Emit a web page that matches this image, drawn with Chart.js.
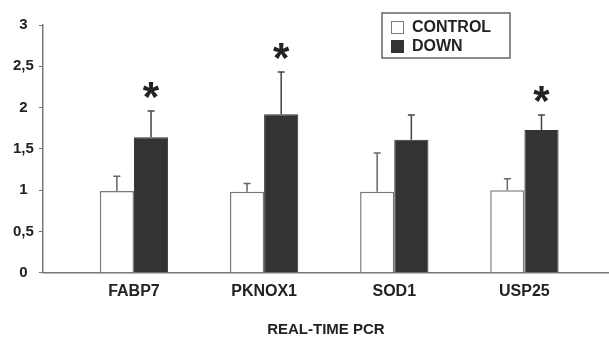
<!DOCTYPE html>
<html>
<head>
<meta charset="utf-8">
<script src="https://cdn.jsdelivr.net/npm/chart.js@4/dist/chart.umd.min.js"></script>
<style>
  html, body { margin: 0; padding: 0; background: #fff; }
  #wrap { width: 609px; height: 337px; }
</style>
</head>
<body>
<div id="wrap"><canvas id="pcrChart"></canvas></div>
<script>
// ---------- Data ----------
const categories = ["FABP7", "PKNOX1", "SOD1", "USP25"];
const controlValues = [0.99, 0.98, 0.98, 1.0];
const controlErrors = [0.18, 0.10, 0.47, 0.14];
const downValues = [1.64, 1.92, 1.61, 1.73];
const downErrors = [0.32, 0.51, 0.30, 0.18];
const downSignificant = [true, true, false, true];
const yTicks = [0, 0.5, 1, 1.5, 2, 2.5, 3];

const FONT = "'Liberation Sans', Arial, sans-serif";

// ---------- Plugins ----------
const errorBars = {
  id: "errorBars",
  afterDatasetsDraw(chart) {
    const ctx = chart.ctx;
    const y = chart.scales.y;
    chart.data.datasets.forEach((ds, di) => {
      const meta = chart.getDatasetMeta(di);
      meta.data.forEach((bar, i) => {
        const top = y.getPixelForValue(ds.data[i].y + ds.errors[i]);
        ctx.save();
        ctx.strokeStyle = ds.errorColor;
        ctx.lineWidth = 1.5;
        ctx.beginPath();
        ctx.moveTo(bar.x, bar.y);
        ctx.lineTo(bar.x, top);
        ctx.moveTo(bar.x - 3.5, top);
        ctx.lineTo(bar.x + 3.5, top);
        ctx.stroke();

        // significance mark
        if (ds.stars && ds.stars[i]) {
          ctx.fillStyle = "#222";
          ctx.font = "bold 42px " + FONT;
          ctx.textAlign = "center";
          ctx.textBaseline = "alphabetic";
          const m = ctx.measureText("*");
          const mid = (m.actualBoundingBoxAscent - m.actualBoundingBoxDescent) / 2;
          ctx.fillText("*", bar.x, top - 21 + mid);
        }
        ctx.restore();
      });
    });
  }
};

const boxLegend = {
  id: "boxLegend",
  afterDraw(chart) {
    const ctx = chart.ctx;
    const left = 382, topY = 13, w = 128, h = 45;
    ctx.save();
    ctx.strokeStyle = "#666";
    ctx.lineWidth = 1.5;
    ctx.strokeRect(left, topY, w, h);
    ctx.font = "bold 16px " + FONT;
    ctx.textBaseline = "middle";
    ctx.textAlign = "left";
    chart.data.datasets.forEach((ds, i) => {
      const cy = topY + 14 + i * 19;
      ctx.fillStyle = ds.backgroundColor;
      ctx.fillRect(391, cy - 6, 13, 13);
      ctx.strokeStyle = ds.borderColor;
      ctx.lineWidth = 1;
      ctx.strokeRect(391.5, cy - 5.5, 12, 12);
      ctx.fillStyle = "#222";
      ctx.fillText(ds.label, 412, cy + 1);
    });
    ctx.restore();
  }
};

// ---------- Chart ----------
function toPoints(values) {
  return values.map((v, i) => ({ x: i + 1, y: v }));
}

function initChart() {
  const ctx = document.getElementById("pcrChart").getContext("2d");

  new Chart(ctx, {
    type: "bar",
    data: {
      datasets: [
        {
          label: "CONTROL",
          data: toPoints(controlValues),
          errors: controlErrors,
          backgroundColor: "#ffffff",
          borderColor: "#7a7a7a",
          borderWidth: 1.5,
          errorColor: "#666",
          categoryPercentage: 0.525,
          barPercentage: 1
        },
        {
          label: "DOWN",
          data: toPoints(downValues),
          errors: downErrors,
          stars: downSignificant,
          backgroundColor: "#333333",
          borderColor: "#333333",
          borderWidth: 1,
          errorColor: "#444",
          categoryPercentage: 0.525,
          barPercentage: 1
        }
      ]
    },
    options: {
      responsive: true,
      maintainAspectRatio: false,
      animation: false,
      layout: { padding: { left: 8, right: 0, top: 25, bottom: 0 } },
      plugins: {
        legend: { display: false },
        tooltip: { enabled: false }
      },
      scales: {
        x: {
          type: "linear",
          offset: false,
          min: 0.3,
          max: 4.65,
          afterBuildTicks: (scale) => {
            scale.ticks = categories.map((c, i) => ({ value: i + 1 }));
          },
          grid: { display: false, drawTicks: false },
          border: { color: "#777", width: 1.5 },
          ticks: {
            autoSkip: false,
            maxRotation: 0,
            padding: 9,
            color: "#222",
            font: { family: FONT, size: 16, weight: "bold" },
            callback: (v) => categories[v - 1] || ""
          },
          title: {
            display: true,
            text: "REAL-TIME PCR",
            color: "#222",
            font: { family: FONT, size: 15, weight: "bold", lineHeight: 1 },
            padding: { top: 12, bottom: 0 }
          }
        },
        y: {
          min: 0,
          max: 3,
          afterBuildTicks: (scale) => {
            scale.ticks = yTicks.map((v) => ({ value: v }));
          },
          grid: {
            drawOnChartArea: false,
            drawTicks: true,
            tickLength: 4,
            color: "#777"
          },
          border: { color: "#777", width: 1.5 },
          ticks: {
            crossAlign: "center",
            padding: 5,
            color: "#222",
            font: { family: FONT, size: 15, weight: "bold" },
            callback: (v) => String(v).replace(".", ",")
          }
        }
      }
    },
    plugins: [errorBars, boxLegend]
  });
}

window.addEventListener("load", () => {
  initChart();
});
</script>
</body>
</html>
